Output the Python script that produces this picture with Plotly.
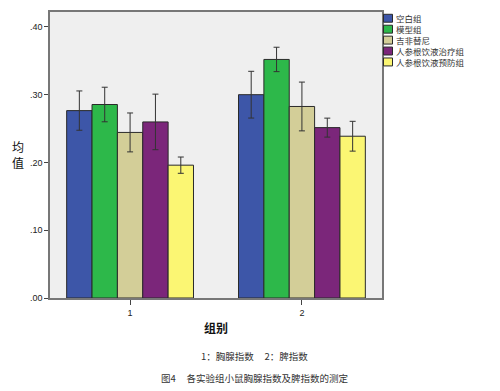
import plotly.graph_objects as go

categories = [1, 2]
cat_labels = ["1", "2"]
series_names = ["空白组", "模型组", "吉非替尼", "人参根饮液治疗组", "人参根饮液预防组"]
colors = ["#3D56A8", "#2DB84A", "#D3CE98", "#7B267A", "#FBF673"]

means = [
    [0.2765, 0.300],
    [0.2855, 0.352],
    [0.2443, 0.2826],
    [0.2598, 0.2514],
    [0.196, 0.2387],
]
errs = [
    [0.029, 0.0345],
    [0.0255, 0.018],
    [0.0287, 0.036],
    [0.041, 0.014],
    [0.012, 0.022],
]

y_tickvals = [0.0, 0.1, 0.2, 0.3, 0.4]
y_ticktext = [".00", ".10", ".20", ".30", ".40"]

x_title = "组别"
y_title = "均<br>值"
caption1 = "1：胸腺指数&nbsp;&nbsp;&nbsp;&nbsp;&nbsp;2：脾指数"
caption2 = "图4&nbsp;&nbsp;&nbsp;&nbsp;&nbsp;各实验组小鼠胸腺指数及脾指数的测定"

CJK = "Noto Sans CJK SC, Liberation Sans, sans-serif"

fig = go.Figure()
for name, col, m, e in zip(series_names, colors, means, errs):
    fig.add_trace(go.Bar(
        x=categories, y=m, name=name,
        marker=dict(color=col, line=dict(color="#2a2a2a", width=1)),
        error_y=dict(type="data", array=e, visible=True, color="#333333",
                     thickness=1, width=3),
        showlegend=False,
    ))

W, H = 500, 391
L, R, T, B = 50, 118, 10, 93
pw, ph = W - L - R, H - T - B

fig.update_layout(
    width=W, height=H,
    margin=dict(l=L, r=R, t=T, b=B),
    paper_bgcolor="white",
    plot_bgcolor="#EFEFEF",
    barmode="group",
    bargap=0.262,
    bargroupgap=0,
    font=dict(family=CJK, size=9, color="#222"),
    xaxis=dict(
        range=[0.534, 2.466], tickvals=categories, ticktext=cat_labels,
        ticks="outside", ticklen=5, tickcolor="#444", tickwidth=1,
        showline=True, linecolor="#777", linewidth=1.5, mirror=True,
        showgrid=False, zeroline=False,
        tickfont=dict(family="Liberation Sans, sans-serif", size=9, color="#222"),
    ),
    yaxis=dict(
        range=[0, 0.422], tickvals=y_tickvals, ticktext=y_ticktext,
        ticks="outside", ticklen=4, tickcolor="#444", tickwidth=1,
        showline=True, linecolor="#777", linewidth=1.5, mirror=True,
        showgrid=False, zeroline=False,
        tickfont=dict(family="Liberation Sans, sans-serif", size=9, color="#222"),
    ),
)

def px_x(x):
    return (x - L) / pw

def px_y(y):
    return (H - B - y) / ph

annotations = []
shapes = []
# custom legend
row_y0 = 16.3
row_dy = 11
for i, (name, col) in enumerate(zip(series_names, colors)):
    yc = row_y0 + i * row_dy
    shapes.append(dict(
        type="rect", xref="paper", yref="paper",
        x0=px_x(383.5), x1=px_x(392.5), y0=px_y(yc - 4), y1=px_y(yc + 4),
        fillcolor=col, line=dict(color="#2a2a2a", width=1),
    ))
    annotations.append(dict(
        text=name, xref="paper", yref="paper", x=px_x(394.5), y=px_y(yc),
        xanchor="left", yanchor="middle", showarrow=False, borderpad=0,
        font=dict(family=CJK, size=8.5, color="#333"),
    ))

annotations.append(dict(
    text=y_title, xref="paper", yref="paper", x=px_x(18), y=px_y(153),
    xanchor="center", yanchor="middle", showarrow=False,
    font=dict(family=CJK, size=12, color="#111"),
))
annotations.append(dict(
    text="<b>" + x_title + "</b>", xref="paper", yref="paper", x=px_x(216), y=px_y(328),
    xanchor="center", yanchor="middle", showarrow=False,
    font=dict(family=CJK, size=12, color="#111"),
))
annotations.append(dict(
    text=caption1, xref="paper", yref="paper", x=px_x(254), y=px_y(356),
    xanchor="center", yanchor="middle", showarrow=False,
    font=dict(family=CJK, size=9.5, color="#333"),
))
annotations.append(dict(
    text=caption2, xref="paper", yref="paper", x=px_x(254), y=px_y(379),
    xanchor="center", yanchor="middle", showarrow=False,
    font=dict(family=CJK, size=9.5, color="#333"),
))

fig.update_layout(annotations=annotations, shapes=shapes)
fig.write_html(
    "out.html",
    config={"displayModeBar": False},
    post_script="document.body.style.margin='0';document.body.style.overflow='hidden';",
)
